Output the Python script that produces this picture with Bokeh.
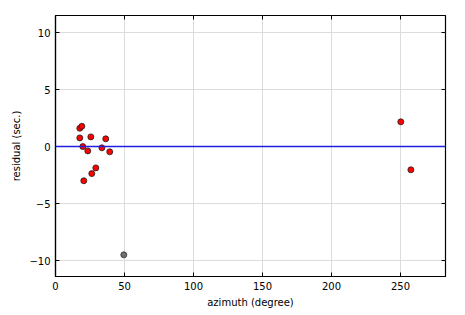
from bokeh.plotting import figure
from bokeh.models import Range1d, LinearAxis, FixedTicker, Span, CustomJSTickFormatter
from bokeh.embed import file_html
from bokeh.resources import INLINE

# residuals of used stations
azimuth = [17.6, 19.1, 17.6, 25.6, 36.4, 19.8, 23.4, 33.6, 39.3, 29.2, 26.3, 20.5, 250.2, 257.5]
residual = [1.61, 1.78, 0.76, 0.85, 0.68, 0.0, -0.38, -0.11, -0.46, -1.87, -2.37, -3.0, 2.17, -2.04]
# rejected station
azimuth_rej = [49.5]
residual_rej = [-9.5]

x_ticks = [0, 50, 100, 150, 200, 250]
y_ticks = [-10, -5, 0, 5, 10]

FONT = "DejaVu Sans"

p = figure(width=465, height=315, output_backend="svg", toolbar_location=None,
           x_range=Range1d(0, 282.6), y_range=Range1d(-11.4, 11.5),
           min_border_left=55, min_border_right=20, min_border_top=15, min_border_bottom=39,
           x_axis_label="azimuth (degree)", y_axis_label="residual (sec.)")

p.outline_line_color = "black"
p.outline_line_width = 1.2

for ax in (p.xaxis[0], p.yaxis[0]):
    ax.major_tick_in = 4
    ax.major_tick_out = 0
    ax.minor_tick_in = 0
    ax.minor_tick_out = 0
    ax.axis_line_width = 1.2
    ax.major_label_text_font = FONT
    ax.major_label_text_font_size = "10px"
    ax.major_label_text_color = "black"
    ax.axis_label_text_font = FONT
    ax.axis_label_text_font_size = "10px"
    ax.axis_label_text_font_style = "normal"
    ax.axis_label_text_color = "black"
    ax.major_label_standoff = 5
    ax.axis_label_standoff = 4

p.xaxis[0].ticker = FixedTicker(ticks=x_ticks)
p.yaxis[0].ticker = FixedTicker(ticks=y_ticks)

blank = CustomJSTickFormatter(code="return ''")
top = LinearAxis(ticker=FixedTicker(ticks=x_ticks), formatter=blank,
                 major_tick_in=4, major_tick_out=0, minor_tick_in=0, minor_tick_out=0,
                 axis_line_color=None, major_label_standoff=0)
right = LinearAxis(ticker=FixedTicker(ticks=y_ticks), formatter=blank,
                   major_tick_in=4, major_tick_out=0, minor_tick_in=0, minor_tick_out=0,
                   axis_line_color=None, major_label_standoff=0)
p.add_layout(top, "above")
p.add_layout(right, "right")

p.xgrid.ticker = FixedTicker(ticks=x_ticks)
p.ygrid.ticker = FixedTicker(ticks=y_ticks)
p.grid.grid_line_color = "#dcdcdc"
p.grid.grid_line_width = 1

p.add_layout(Span(location=0, dimension="width", line_color="#2020e0", line_width=1.5))

p.scatter(azimuth, residual, size=6, marker="circle", fill_color="red",
          line_color="#202020", line_width=0.8)
p.scatter(azimuth_rej, residual_rej, size=6, marker="circle", fill_color="#707070",
          line_color="#303030", line_width=0.8)

open("out.html", "w").write(file_html(p, INLINE))
